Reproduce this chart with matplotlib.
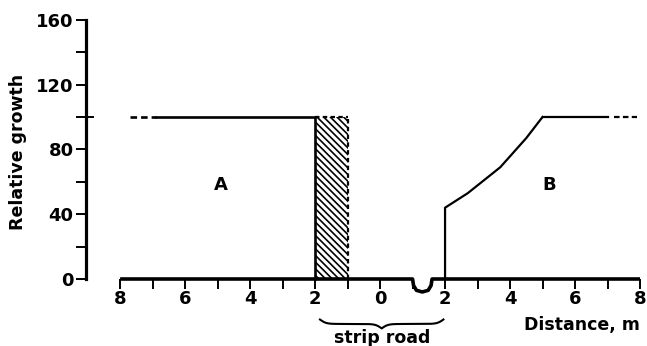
import numpy as np
import matplotlib
matplotlib.use("Agg")
import matplotlib.pyplot as plt

# --- data (x in m, y relative growth) ---
a_dash_x = [-7.7, -6.9]
a_level = 100
a_solid_x = [-6.9, -2.0]
hatch_x = [-2.0, -1.0]
b_curve_x = [2.0, 2.7, 3.7, 4.5, 5.0]
b_curve_y = [44, 53, 69, 87, 100]
b_flat_x = [5.0, 7.0]
b_dash_x = [7.2, 7.9]
base_x = [-8.0, 1.0, 1.03, 1.12, 1.3, 1.48, 1.57, 1.6, 8.0]
base_y = [0, 0, -4, -7, -8, -7, -4, 0, 0]
road_span = [-1.85, 1.95]

x_ticks = [-8, -6, -4, -2, 0, 2, 4, 6, 8]
x_ticklabels = ["8", "6", "4", "2", "0", "2", "4", "6", "8"]
y_ticks = [0, 40, 80, 120, 160]

plt.rcParams["font.family"] = ["DejaVu Sans"]
plt.rcParams["hatch.linewidth"] = 1.2

W, H = 647, 346
fig = plt.figure(figsize=(W / 100, H / 100), dpi=100)
x0, x1 = -9.05, 8.215
y0, y1 = -15, 165
ax = fig.add_axes([86 / W, (346 - 303.3) / H, (W - 86) / W, 291.6 / H])
ax.set_xlim(x0, x1)
ax.set_ylim(y0, y1)

for s in ["top", "right"]:
    ax.spines[s].set_visible(False)
ax.spines["left"].set_bounds(0, 160)
ax.spines["left"].set_linewidth(2.3)
ax.spines["bottom"].set_position(("data", 0))
ax.spines["bottom"].set_linewidth(0)

ax.set_yticks(y_ticks)
ax.set_yticks(np.arange(20, 160, 40), minor=True)
ax.tick_params(axis="y", which="both", direction="out", length=7, width=1.4, pad=2,
               labelsize=13)
ax.set_xticks(x_ticks, x_ticklabels)
ax.set_xticks(np.arange(-7, 8, 2), minor=True)
ax.tick_params(axis="x", which="both", direction="out", length=7, width=1.4, pad=1,
               labelsize=13)
for lab in ax.get_xticklabels() + ax.get_yticklabels():
    lab.set_fontweight("bold")

# extra crossing tick at 100
ax.axhline(a_level, xmin=0, xmax=0.012, color="black", lw=1.4)

# baseline with the ditch
ax.plot(base_x, base_y, color="black", lw=2.6, solid_capstyle="butt", clip_on=False)

# curve A
ax.plot(a_dash_x, [a_level] * 2, color="black", lw=1.9, ls=(0, (2.5, 1.5)))
ax.plot(a_solid_x + [a_solid_x[-1]], [a_level, a_level, 0], color="black", lw=1.9)

# hatched strip
ax.fill_between(hatch_x, 0, a_level, facecolor="white", edgecolor="black",
                hatch="\\\\\\\\\\", linewidth=0)
ax.plot([hatch_x[1]] * 2, [0, a_level], color="black", lw=1.6, ls=(0, (2, 1.5)))
ax.plot(hatch_x, [a_level] * 2, color="black", lw=1.6, ls=(0, (2, 1.5)))

# curve B
ax.plot([b_curve_x[0]] + b_curve_x, [0] + b_curve_y, color="black", lw=1.6)
ax.plot(b_flat_x, [a_level] * 2, color="black", lw=1.6)
ax.plot(b_dash_x, [a_level] * 2, color="black", lw=1.6, ls=(0, (2.5, 1.5)))

ax.text(-4.9, 58, "A", fontsize=13, fontweight="bold", ha="center", va="center")
ax.text(5.2, 58, "B", fontsize=13, fontweight="bold", ha="center", va="center")

# curly brace under the strip road
t = np.linspace(0, 0.5, 101)
beta = 40
half = 1 / (1 + np.exp(-beta * t)) + 1 / (1 + np.exp(-beta * (t - 0.5)))
full = np.concatenate([half, half[::-1][1:]])
bx = np.linspace(road_span[0], road_span[1], len(full))
by = -25 - 5.5 * (full - 0.5)
ax.plot(bx, by, color="black", lw=1.5, clip_on=False)

ax.text(0.05, -36.5, "strip road", fontsize=12.5, fontweight="bold", ha="center",
        va="center", clip_on=False)
ax.text(8.0, -28.5, "Distance, m", fontsize=12.5, fontweight="bold", ha="right",
        va="center", clip_on=False)
fig.text(18 / W, 1 - 152 / H, "Relative growth", fontsize=12.5, fontweight="bold",
         rotation=90, ha="center", va="center")

fig.savefig("out.png", dpi=100)
